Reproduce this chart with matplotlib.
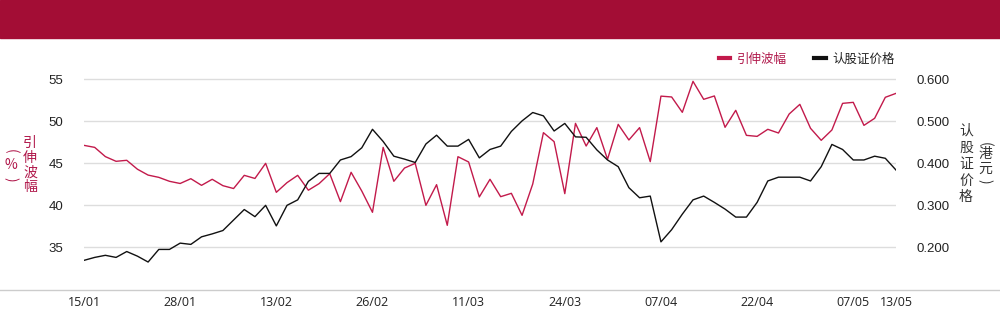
import matplotlib.pyplot as plt
import numpy as np
import pandas as pd
from matplotlib.lines import Line2D
from matplotlib.patches import Rectangle

# Trading days (HKEX calendar, 2025)
holidays = ["2025-01-29", "2025-01-30", "2025-01-31", "2025-04-04",
            "2025-04-18", "2025-04-21", "2025-05-01", "2025-05-05"]
dates = pd.bdate_range("2025-01-15", "2025-05-13", freq="C", holidays=holidays)

# Implied volatility (%)
implied_vol = [
    47.14, 46.90, 45.80, 45.24, 45.36, 44.30, 43.60, 43.33, 42.86, 42.60,
    43.17, 42.38, 43.10, 42.34, 42.00, 43.57, 43.20, 45.00, 41.55, 42.70,
    43.57, 41.80, 42.58, 43.77, 40.44, 43.93, 41.70, 39.17, 46.90, 42.86,
    44.44, 45.00, 40.00, 42.46, 37.62, 45.79, 45.16, 41.00, 43.10, 41.03,
    41.43, 38.81, 42.54, 48.65, 47.58, 41.39, 49.76, 47.06, 49.25, 45.48,
    49.64, 47.78, 49.25, 45.20, 53.00, 52.90, 51.07, 54.76, 52.62, 53.02,
    49.29, 51.31, 48.33, 48.21, 49.05, 48.61, 50.87, 52.02, 49.17, 47.74,
    48.97, 52.14, 52.26, 49.52, 50.36, 52.86, 53.33,
]

# Warrant price (HKD)
warrant_price = [
    0.169, 0.176, 0.181, 0.176, 0.190, 0.179, 0.165, 0.195, 0.195, 0.210,
    0.207, 0.225, 0.232, 0.240, 0.265, 0.290, 0.273, 0.300, 0.251, 0.300,
    0.313, 0.357, 0.376, 0.376, 0.408, 0.416, 0.437, 0.481, 0.452, 0.417,
    0.410, 0.402, 0.446, 0.467, 0.441, 0.441, 0.457, 0.413, 0.433, 0.441,
    0.476, 0.501, 0.521, 0.513, 0.477, 0.495, 0.463, 0.462, 0.432, 0.408,
    0.392, 0.342, 0.318, 0.322, 0.213, 0.242, 0.279, 0.313, 0.322, 0.307,
    0.291, 0.272, 0.272, 0.307, 0.358, 0.367, 0.367, 0.367, 0.358, 0.392,
    0.445, 0.433, 0.408, 0.408, 0.417, 0.412, 0.384,
]

left_ticks = [35, 40, 45, 50, 55]
right_ticks = [0.2, 0.3, 0.4, 0.5, 0.6]

RED = "#C21A4B"
RED_TEXT = "#B0174A"
BAND = "#A30D35"
CJK = ["Noto Sans CJK SC", "DejaVu Sans"]

W, H = 1000, 324
fig = plt.figure(figsize=(W / 100, H / 100), dpi=100)

# pixel geometry of the plot area
y_lo, y_hi = 31, 58
px_per_unit = 8.4


def px_y(v):
    return 79.33 + (55 - v) * px_per_unit


left_px, right_px = 84, 896
top_px, bot_px = px_y(y_hi), px_y(y_lo)
ax = fig.add_axes([left_px / W, 1 - bot_px / H,
                   (right_px - left_px) / W, (bot_px - top_px) / H])

x = np.arange(len(dates))
ax.plot(x, implied_vol, color=RED, lw=1.0, zorder=3)
ax.set_xlim(0, len(dates) - 1)
ax.set_ylim(y_lo, y_hi)

ax2 = ax.twinx()
ax2.plot(x, warrant_price, color="#111111", lw=1.0, zorder=3)
ax2.set_ylim(0.02 * y_lo - 0.5, 0.02 * y_hi - 0.5)

for a in (ax, ax2):
    for s in a.spines.values():
        s.set_visible(False)
    a.tick_params(length=0)

ax.set_yticks(left_ticks)
ax.set_yticklabels([str(t) for t in left_ticks], fontsize=9.5,
                   family="Liberation Sans", color="#222222")
ax.tick_params(axis="y", pad=15)
ax2.set_yticks(right_ticks)
ax2.set_yticklabels([f"{t:.3f}" for t in right_ticks], fontsize=9.5,
                    family="Liberation Sans", color="#222222")
ax2.tick_params(axis="y", pad=14.5)
ax.grid(axis="y", color="#dddddd", lw=1.0, zorder=0)

tick_idx = list(range(0, len(dates), 9)) + [len(dates) - 1]
ax.set_xticks(tick_idx)
ax.set_xticklabels([dates[i].strftime("%d/%m") for i in tick_idx],
                   fontsize=9, family="Open Sans", color="#222222")
ax.tick_params(axis="x", pad=11)

# header band and bottom rule
fig.patches.append(Rectangle((0, 1 - 37.7 / H), 1, 37.7 / H,
                             transform=fig.transFigure, color=BAND, zorder=0))
fig.lines.append(Line2D([0, 1], [1 - 289.5 / H] * 2, transform=fig.transFigure,
                        color="#cccccc", lw=1.0))

# legend
handles = [Line2D([], [], color=RED, lw=3), Line2D([], [], color="#111111", lw=3)]
leg = ax.legend(handles, ["引伸波幅", "认股证价格"], ncol=2, frameon=False,
                loc="center right", bbox_to_anchor=(895 / W, 1 - 59 / H),
                bbox_transform=fig.transFigure, borderaxespad=0, borderpad=0,
                handlelength=0.9, handletextpad=0.55, columnspacing=2.2,
                prop={"family": CJK, "size": 9})
leg.get_texts()[0].set_color(RED_TEXT)
leg.get_texts()[1].set_color("#222222")


def vtext(px_x, px_top, pitch, chars, color, size=10):
    for k, ch in enumerate(chars):
        rot = 0
        if ch in "()":
            rot = -90
        fig.text(px_x / W, 1 - (px_top + pitch * k) / H, ch, rotation=rot,
                 ha="center", va="center", color=color, fontsize=size,
                 family=CJK)


# vertical axis titles
vtext(30, 142.5, 15, "引伸波幅", RED_TEXT)
fig.text(11 / W, 1 - 151 / H, "(", rotation=-90, ha="center", va="center",
         color=RED_TEXT, fontsize=10, family=CJK)
fig.text(11 / W, 1 - 165 / H, "%", ha="center", va="center",
         color=RED_TEXT, fontsize=10, family=CJK)
fig.text(11 / W, 1 - 179 / H, ")", rotation=-90, ha="center", va="center",
         color=RED_TEXT, fontsize=10, family=CJK)

vtext(966, 131, 16.5, "认股证价格", "#333333")
fig.text(985 / W, 1 - 144 / H, "(", rotation=-90, ha="center", va="center",
         color="#333333", fontsize=10, family=CJK)
vtext(985, 154, 14.5, "港元", "#333333")
fig.text(985 / W, 1 - 181 / H, ")", rotation=-90, ha="center", va="center",
         color="#333333", fontsize=10, family=CJK)

fig.savefig("out.png", dpi=100)
